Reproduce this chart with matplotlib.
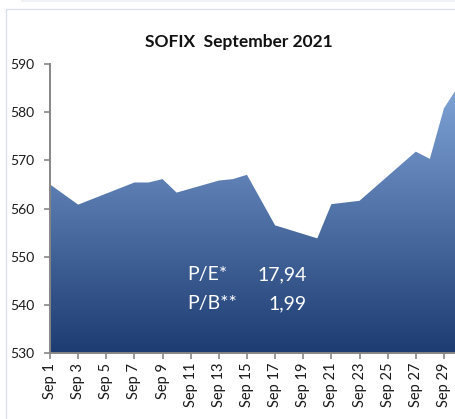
import matplotlib
matplotlib.use("Agg")
import matplotlib.pyplot as plt
import matplotlib.dates as mdates
from matplotlib.colors import LinearSegmentedColormap
from matplotlib.patches import Rectangle
import numpy as np
import pandas as pd

plt.rcParams['font.family'] = ['Lato', 'DejaVu Sans']

dates = pd.to_datetime([
    "2021-09-01", "2021-09-03", "2021-09-07", "2021-09-08", "2021-09-09",
    "2021-09-10", "2021-09-13", "2021-09-14", "2021-09-15", "2021-09-17",
    "2021-09-20", "2021-09-21", "2021-09-23", "2021-09-27", "2021-09-28",
    "2021-09-29", "2021-09-30",
])
sofix = [565.0, 560.8, 565.4, 565.4, 566.1, 563.3, 565.8, 566.1, 567.0,
         556.5, 553.8, 560.9, 561.6, 571.8, 570.3, 580.8, 585.3]
tick_days = pd.date_range("2021-09-01", "2021-09-29", freq="2D")
ratio_names = ["P/E*", "P/B**"]
ratio_values = ["17,94", "1,99"]

W, H = 456, 419
fig = plt.figure(figsize=(W / 100, H / 100), dpi=100)

# chart frame
fig.add_artist(Rectangle((6.5 / W, -0.1), 1.2, 1 - 9.5 / H + 0.1,
                         transform=fig.transFigure, fill=False,
                         edgecolor="#d9e1ea", linewidth=1.0))
fig.add_artist(plt.Line2D([22 / W, 1], [1 - 1 / H, 1 - 1 / H],
                          transform=fig.transFigure, color="#eef2f7", lw=1.5))

ax = fig.add_axes([50 / W, 1 - 353 / H, 408 / W, 289 / H])
x = mdates.date2num(dates)
x0 = mdates.date2num(pd.Timestamp("2021-09-01"))
x1 = mdates.date2num(pd.Timestamp("2021-09-30"))
ymin, ymax = 530, 590

poly = ax.fill_between(x, sofix, ymin, color="none", linewidth=0)
cmap = LinearSegmentedColormap.from_list("sofix", ["#1d3c72", "#88acdf"])
grad = np.linspace(0, 1, 256).reshape(-1, 1)
img = ax.imshow(grad, cmap=cmap, origin="lower", aspect="auto",
                extent=[x0, x1, ymin, ymax], zorder=1)
img.set_clip_path(poly.get_paths()[0], transform=ax.transData)

ax.set_xlim(x0, x1)
ax.set_ylim(ymin, ymax)
ax.set_yticks(range(530, 591, 10))
ax.set_xticks(mdates.date2num(tick_days))
ax.set_xticklabels([d.strftime("%b ") + str(d.day) for d in tick_days],
                   rotation=90)
for s in ["top", "right"]:
    ax.spines[s].set_visible(False)
for s in ["left", "bottom"]:
    ax.spines[s].set_color("#868686")
    ax.spines[s].set_linewidth(1.4)
ax.tick_params(axis="both", colors="#868686", length=4, width=1.2,
               labelcolor="#1a1a1a")
ax.tick_params(axis="y", pad=7, labelsize=10)
ax.tick_params(axis="x", pad=3, labelsize=10.5)
ax.set_facecolor("none")

fig.text(239 / W, 1 - 46.5 / H, "SOFIX  September 2021", ha="center",
         va="baseline", fontsize=12.5, fontweight="bold", color="#111111")

for i, (name, val) in enumerate(zip(ratio_names, ratio_values)):
    yb = 1 - (280 + 29 * i) / H
    fig.text(187 / W, yb, name, ha="left", va="baseline", fontsize=14,
             color="white")
    fig.text(307 / W, yb, val, ha="right", va="baseline", fontsize=14,
             color="white")

fig.savefig("out.png", dpi=100)
